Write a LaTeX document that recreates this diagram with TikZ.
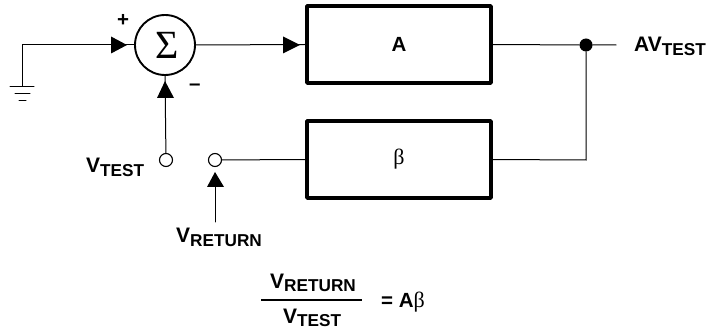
\documentclass[tikz,border=0pt]{standalone}
\usepackage{fontspec}
\setmainfont{Liberation Sans}
\newfontfamily\serifgreek{Liberation Serif}
\newcommand{\lbl}[2]{{\fontsize{21}{22}\selectfont\bfseries #1}\raisebox{-3.5pt}{\fontsize{17.2}{20}\selectfont\bfseries #2}}
\tikzset{x=1pt,y=-1pt,
 wire/.style={line width=1pt,line cap=round},
 thick box/.style={draw,line width=3.5pt,line join=round,minimum width=184pt,minimum height=77pt,inner sep=0pt},
 sumnode/.style={circle,draw,line width=1.9pt,minimum size=60pt,inner sep=0pt},
 openpin/.style={circle,draw,line width=1.1pt,fill=white,minimum size=13pt,inner sep=0pt},
 dotnode/.style={circle,fill=black,minimum size=13pt,inner sep=0pt},
 headtip/.style={fill=black,draw=none},
 txt/.style={inner sep=0pt,font=\fontsize{20.5}{22}\selectfont\bfseries,anchor=base west}}
\begin{document}
\begin{tikzpicture}
\useasboundingbox (0,0) rectangle (707,331);
\node[sumnode] (sum) at (165,45) {\fontsize{40}{40}\selectfont\serifgreek\hspace{4pt}Σ};
\node[thick box] (A) at (399,44.5) {\fontsize{20.5}{20}\selectfont\bfseries A};
\node[thick box] (B) at (399,159.5) {\fontsize{22}{20}\selectfont\serifgreek β};
\node[dotnode] (J) at (586,45) {};
\node[openpin] (P1) at (166,160) {};
\node[openpin] (P2) at (215,160) {};
\coordinate (G) at (22.4,45);
\coordinate (G2) at (22.4,86);
\coordinate (out) at (616,45);
\coordinate (ret) at (215,222);
\coordinate (jb) at (586,160);
% wires
\draw[wire] (G2) -- (G) -- (sum.west);
\draw[wire] (sum.east) -- (A.west);
\draw[wire] (A.east) -- (J) -- (out);
\draw[wire] (J) -- (jb) -- (B.east);
\draw[wire] (B.west) -- (P2);
\draw[wire] (P1) -- (sum.south);
\draw[wire] (ret) -- (215,180);
% ground
\draw[wire] (10,86.4) -- (34,86.4);
\draw[wire] (15,93.5) -- (30,93.5);
\draw[wire] (19,100.4) -- (26,100.4);
% arrowheads
\fill[headtip] (127,45) -- (111,36.5) -- (111,53.5) -- cycle;
\fill[headtip] (300,45) -- (283,36.5) -- (283,53.5) -- cycle;
\fill[headtip] (165,81) -- (157,98) -- (174,98) -- cycle;
\fill[headtip] (215,172) -- (207,187) -- (224,187) -- cycle;
% labels
\node[txt] (plus) at (117,27) {+};
\node[txt] (minus) at (189,91) {–};
\node[txt] (L1) at (86,173) {\lbl{V}{TEST}};
\node[txt] (L2) at (176,243) {\lbl{V}{RETURN}};
\node[txt] (L3) at (634,52) {\lbl{AV}{TEST}};
\node[txt] (N) at (270,288) {\lbl{V}{RETURN}};
\node[txt] (D) at (283,323) {\lbl{V}{TEST}};
\coordinate (f1) at (261,300);
\coordinate (f2) at (362,300);
\draw[line width=1.1pt] (f1) -- (f2);
\node[txt] (E) at (381,307) {= A{\mdseries\serifgreek\fontsize{22}{20}\selectfont β}};
\end{tikzpicture}
\end{document}
